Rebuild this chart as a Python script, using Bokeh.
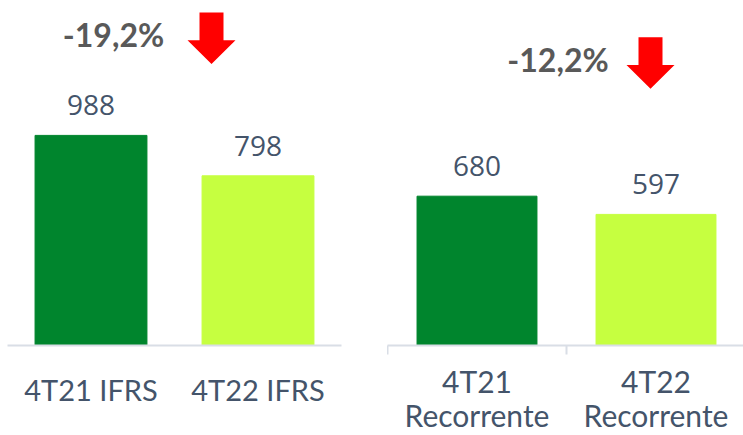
from bokeh.plotting import figure
from bokeh.layouts import row
from bokeh.models import FixedTicker, Range1d, ColumnDataSource
from bokeh.core.properties import value
from bokeh.embed import file_html
from bokeh.resources import INLINE

# ---- data ----
left_categories = ["4T21 IFRS", "4T22 IFRS"]
left_values = [988, 798]
right_categories = ["4T21\nRecorrente", "4T22\nRecorrente"]
right_values = [680, 597]
bar_colors = ["#00852D", "#C6FF40"]


def pct_label(a, b):
    return f"{(b / a - 1) * 100:.1f}%".replace(".", ",")


H = 435          # figure height
FRAME_H = 348    # frame height (baseline)
BOTTOM = H - FRAME_H

AXIS_COLOR = "#D9DEE6"
VAL_COLOR = "#44546A"
PCT_COLOR = "#595959"
ARROW_COLOR = "#FF0000"


def panel(cats, vals, width, frame_left, frame_w, border_right, px_per_cat, px_per_val,
          arrow, pct_pos, boundary_ticks, standoff, label_size):
    x_end = frame_w / px_per_cat
    y_end = FRAME_H / px_per_val
    p = figure(width=width, height=H, x_range=Range1d(0, x_end), y_range=Range1d(0, y_end),
               output_backend="svg", toolbar_location=None, y_axis_location=None,
               min_border_left=frame_left, min_border_right=border_right, min_border_top=0,
               min_border_bottom=BOTTOM)
    p.outline_line_color = None
    p.grid.visible = False
    p.background_fill_color = None
    p.border_fill_color = None

    def X(px_abs):
        return (px_abs - frame_left) / px_per_cat

    def Y(py_abs):
        return (FRAME_H - py_abs) / px_per_val

    xs = [i + 0.5 for i in range(len(cats))]
    src = ColumnDataSource(dict(x=xs, top=vals, color=bar_colors[:len(vals)],
                                label=[str(v) for v in vals]))
    p.vbar(x="x", top="top", width=0.67, color="color", source=src)
    p.text(x="x", y="top", text="label", source=src, text_align="center",
           text_baseline="alphabetic", y_offset=-30, text_font=value("Open Sans"),
           text_font_size="28px", text_color=VAL_COLOR)

    # arrow: centre x, top, head base, tip (pixels)
    acx, atop, ahead, atip = arrow
    cx = X(acx)
    ax = [X(acx - 12), X(acx + 12), X(acx + 12), X(acx + 24), cx, X(acx - 24), X(acx - 12)]
    ay = [Y(atop), Y(atop), Y(ahead), Y(ahead), Y(atip), Y(ahead), Y(ahead)]
    p.patch(ax, ay, color=ARROW_COLOR, line_width=0)

    p.text(x=[X(pct_pos[0])], y=[Y(pct_pos[1])], text=[pct_label(vals[0], vals[1])],
           text_align="center", text_baseline="alphabetic", text_font=value("Lato"),
           text_font_style="bold", text_font_size="32px", text_color=PCT_COLOR)

    ax_ = p.xaxis[0]
    if boundary_ticks:
        ax_.ticker = FixedTicker(ticks=xs, minor_ticks=[i for i in range(len(cats) + 1)])
        ax_.minor_tick_in = 0
        ax_.minor_tick_out = 9
        ax_.minor_tick_line_color = AXIS_COLOR
        ax_.minor_tick_line_width = 2
    else:
        ax_.ticker = FixedTicker(ticks=xs, minor_ticks=[])
        ax_.minor_tick_line_color = None
    ax_.major_label_overrides = {x: c for x, c in zip(xs, cats)}
    ax_.major_tick_in = 0
    ax_.major_tick_out = 8
    ax_.major_tick_line_color = None
    ax_.axis_line_color = AXIS_COLOR
    ax_.axis_line_width = 2
    ax_.major_label_standoff = standoff
    ax_.major_label_text_font = "Lato"
    ax_.major_label_text_font_size = label_size
    ax_.major_label_text_color = VAL_COLOR
    ax_.major_label_text_line_height = 0.95
    return p


left = panel(left_categories, left_values, width=387, frame_left=7, frame_w=334,
             border_right=46, px_per_cat=167, px_per_val=0.2145,
             arrow=(211, 12, 40, 64), pct_pos=(113, 34), boundary_ticks=False,
             standoff=18, label_size="29px")

right = panel(right_categories, right_values, width=356, frame_left=0, frame_w=356,
              border_right=0, px_per_cat=179, px_per_val=0.2215,
              arrow=(263, 37, 65, 89), pct_pos=(170.5, 60), boundary_ticks=True,
              standoff=8, label_size="30px")

layout = row(left, right)
open("out.html", "w").write(file_html(layout, INLINE))
